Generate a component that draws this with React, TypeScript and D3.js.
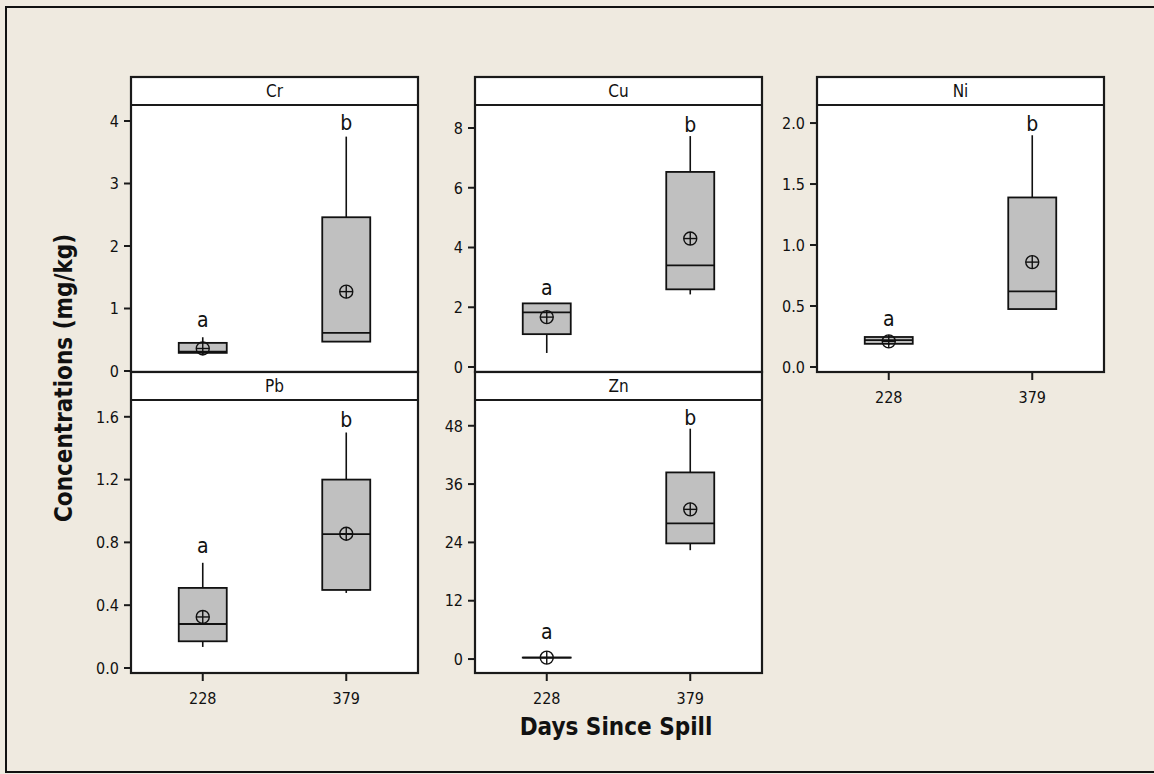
import * as d3 from "d3";

// categories
const days = ["228", "379"];
const metals = ["Cr", "Cu", "Ni", "Pb", "Zn"];
const groupLetters = ["a", "b"];

// box stats per day: [whiskerLow, q1, median, q3, whiskerHigh, mean]
const crStats = [
  [0.27, 0.29, 0.31, 0.45, 0.54, 0.36],
  [0.47, 0.47, 0.61, 2.46, 3.75, 1.27],
];
const cuStats = [
  [0.47, 1.1, 1.83, 2.13, 2.13, 1.67],
  [2.43, 2.6, 3.4, 6.53, 7.73, 4.3],
];
const niStats = [
  [0.18, 0.19, 0.22, 0.246, 0.26, 0.21],
  [0.475, 0.475, 0.62, 1.39, 1.9, 0.86],
];
const pbStats = [
  [0.134, 0.17, 0.28, 0.51, 0.67, 0.325],
  [0.478, 0.497, 0.853, 1.2, 1.5, 0.855],
];
const znStats = [
  [0.3, 0.3, 0.3, 0.3, 0.3, 0.3],
  [22.4, 23.8, 27.9, 38.4, 47.4, 30.8],
];

// where the letters sit (data units)
const crLetterY = [0.82, 3.97];
const cuLetterY = [2.67, 8.13];
const niLetterY = [0.4, 2.0];
const pbLetterY = [0.78, 1.58];
const znLetterY = [5.7, 49.8];

// axis ticks
const crTicks = [0, 1, 2, 3, 4];
const cuTicks = [0, 2, 4, 6, 8];
const niTicks = [0, 0.5, 1, 1.5, 2];
const pbTicks = [0, 0.4, 0.8, 1.2, 1.6];
const znTicks = [0, 12, 24, 36, 48];

// y domains
const crDomain = [-0.016, 4.256];
const cuDomain = [-0.167, 8.77];
const niDomain = [-0.041, 2.148];
const pbDomain = [-0.032, 1.707];
const znDomain = [-2.87, 53.3];

const W = 1154;
const H = 774;
const font = "'DejaVu Sans Condensed', 'DejaVu Sans', sans-serif";
const colLeft = [131, 475, 817];
const panelW = 287;
const rowTop = [77, 372];
const rowBottom = [372, 673];
const headerH = 28;
const boxW = 48;
const ink = "#111";

const panels = [
  { name: metals[0], col: 0, row: 0, stats: crStats, letterY: crLetterY, ticks: crTicks, domain: crDomain, fmt: d3.format("d"), xAxis: false },
  { name: metals[1], col: 1, row: 0, stats: cuStats, letterY: cuLetterY, ticks: cuTicks, domain: cuDomain, fmt: d3.format("d"), xAxis: false },
  { name: metals[2], col: 2, row: 0, stats: niStats, letterY: niLetterY, ticks: niTicks, domain: niDomain, fmt: d3.format(".1f"), xAxis: true },
  { name: metals[3], col: 0, row: 1, stats: pbStats, letterY: pbLetterY, ticks: pbTicks, domain: pbDomain, fmt: d3.format(".1f"), xAxis: true },
  { name: metals[4], col: 1, row: 1, stats: znStats, letterY: znLetterY, ticks: znTicks, domain: znDomain, fmt: d3.format("d"), xAxis: true },
];

function Panel({ p }) {
  const left = colLeft[p.col];
  const top = rowTop[p.row];
  const bottom = rowBottom[p.row];
  const plotTop = top + headerH;

  const x = d3.scalePoint().domain(days).range([0, panelW]).padding(0.5);
  const y = d3.scaleLinear().domain(p.domain).range([bottom, plotTop]);

  return (
    <g transform={`translate(${left},0)`}>
      <rect x={0} y={top} width={panelW} height={bottom - top} fill="#fff" />
      {/* header strip */}
      <line x1={0} x2={panelW} y1={plotTop} y2={plotTop} stroke="#1a1a1a" strokeWidth={1.8} />
      <text x={panelW / 2} y={top + headerH / 2 + 6} textAnchor="middle" fontSize={17} fill={ink} fontFamily={font}>
        {p.name}
      </text>

      {/* y axis */}
      {p.ticks.map((t) => (
        <g key={t} transform={`translate(0,${y(t)})`}>
          <line x1={-7} x2={0} stroke="#1a1a1a" strokeWidth={2} />
          <text x={-12} dy="0.36em" textAnchor="end" fontSize={16} fill={ink} fontFamily={font}>
            {p.fmt(t)}
          </text>
        </g>
      ))}

      {/* x axis */}
      {p.xAxis &&
        days.map((d) => (
          <g key={d} transform={`translate(${x(d)},${bottom})`}>
            <line y1={0} y2={8} stroke="#1a1a1a" strokeWidth={2} />
            <text y={31} textAnchor="middle" fontSize={16} fill={ink} fontFamily={font}>
              {d}
            </text>
          </g>
        ))}

      {/* boxes */}
      {p.stats.map((s, i) => {
        const cx = x(days[i]);
        const [lo, q1, med, q3, hi, mean] = s;
        const r = 6.5;
        return (
          <g key={i}>
            <line x1={cx} x2={cx} y1={y(hi)} y2={y(q3)} stroke={ink} strokeWidth={1.6} />
            <line x1={cx} x2={cx} y1={y(q1)} y2={y(lo)} stroke={ink} strokeWidth={1.6} />
            <rect
              x={cx - boxW / 2}
              y={y(q3)}
              width={boxW}
              height={Math.max(y(q1) - y(q3), 0.01)}
              fill="#c0c0c0"
              stroke={ink}
              strokeWidth={1.8}
            />
            <line x1={cx - boxW / 2} x2={cx + boxW / 2} y1={y(med)} y2={y(med)} stroke={ink} strokeWidth={1.8} />
            <circle cx={cx} cy={y(mean)} r={r} fill="none" stroke={ink} strokeWidth={1.4} />
            <line x1={cx - r} x2={cx + r} y1={y(mean)} y2={y(mean)} stroke={ink} strokeWidth={1.4} />
            <line x1={cx} x2={cx} y1={y(mean) - r} y2={y(mean) + r} stroke={ink} strokeWidth={1.4} />
            <text x={cx} y={y(p.letterY[i])} dy="0.36em" textAnchor="middle" fontSize={21} fill={ink} fontFamily={font}>
              {groupLetters[i]}
            </text>
          </g>
        );
      })}

      <rect x={0} y={top} width={panelW} height={bottom - top} fill="none" stroke="#1a1a1a" strokeWidth={2.2} />
    </g>
  );
}

export default function App() {
  return (
    <svg width={W} height={H} style={{ position: "absolute", left: 0, top: 0 }}>
      <rect x={0} y={0} width={W} height={H} fill="#efeae0" />
      <rect x={6} y={7} width={W + 10} height={765} fill="none" stroke={ink} strokeWidth={2} />
      {panels.map((p) => (
        <Panel key={p.name} p={p} />
      ))}
      <text
        transform="translate(72,378) rotate(-90)"
        textAnchor="middle"
        fontSize={24}
        fontWeight="bold"
        fill={ink}
        fontFamily={font}
      >
        Concentrations (mg/kg)
      </text>
      <text x={616} y={735} textAnchor="middle" fontSize={24} fontWeight="bold" fill={ink} fontFamily={font}>
        Days Since Spill
      </text>
    </svg>
  );
}
